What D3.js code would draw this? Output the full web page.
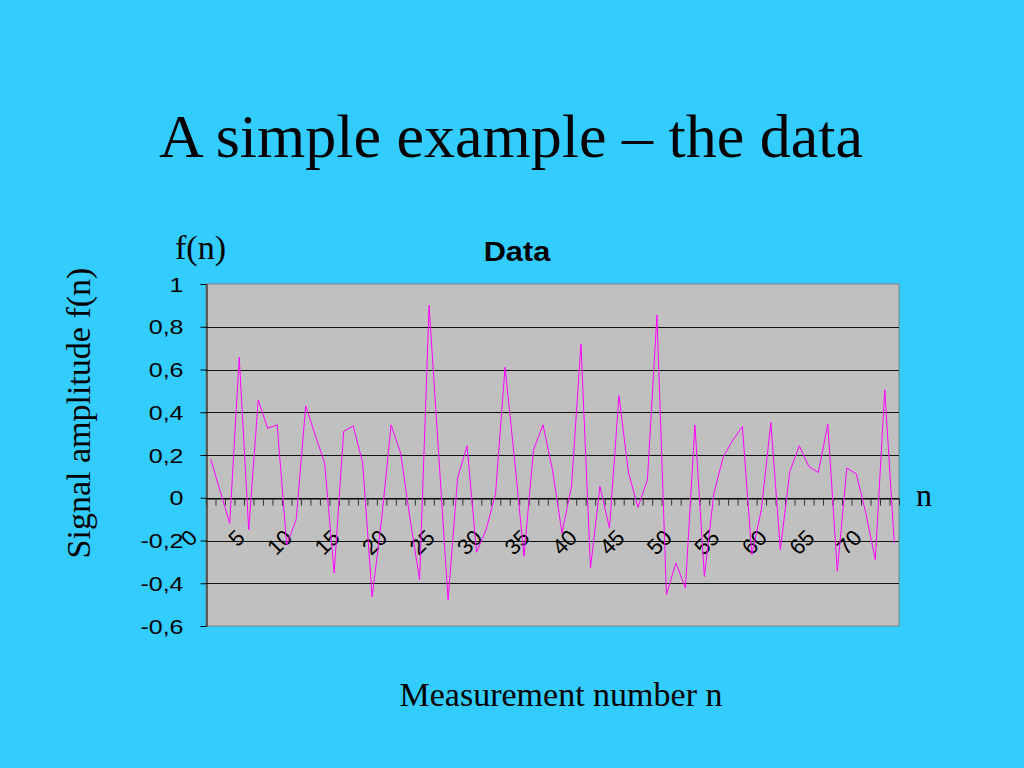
<!DOCTYPE html>
<html>
<head>
<meta charset="utf-8">
<script src="https://cdn.jsdelivr.net/npm/d3@7"></script>
<style>
  body { margin: 0; background: #33ccff; }
  svg { display: block; }
</style>
</head>
<body>
<div id="chart"></div>
<script>
// measured signal f(n), n = 0 .. 72
var signal = [0.18, 0.03, -0.12, 0.657, -0.15, 0.458, 0.325, 0.341, -0.22, -0.103,
    0.43, 0.294, 0.162, -0.352, 0.31, 0.336, 0.165, -0.463, -0.1, 0.341,
    0.209, -0.10, -0.383, 0.9, 0.21, -0.478, 0.092, 0.243, -0.255, -0.15,
    0.02, 0.611, 0.18, -0.274, 0.224, 0.341, 0.13, -0.165, 0.053, 0.72,
    -0.329, 0.053, -0.142, 0.478, 0.118, -0.045, 0.084, 0.855, -0.453, -0.305,
    -0.422, 0.341, -0.368, 0.02, 0.193, 0.27, 0.333, -0.266, -0.056, 0.352,
    -0.243, 0.123, 0.243, 0.146, 0.118, 0.344, -0.344, 0.139, 0.112, -0.07,
    -0.29, 0.505, -0.212];
var categories = signal.map(function (d, i) { return i; });
var xTickLabels = [0, 5, 10, 15, 20, 25, 30, 35, 40, 45, 50, 55, 60, 65, 70];
var yTicks = [-0.6, -0.4, -0.2, 0, 0.2, 0.4, 0.6, 0.8, 1];
var gridTicks = [-0.4, -0.2, 0, 0.2, 0.4, 0.6, 0.8];

var width = 1024, height = 768;
var plot = { left: 206, right: 899, top: 284, bottom: 626 };

var svg = d3.select("#chart")
    .append("svg")
    .attr("width", width)
    .attr("height", height);

svg.append("rect")
    .attr("width", width)
    .attr("height", height)
    .attr("fill", "#33ccff");

var x = d3.scaleBand()
    .domain(categories)
    .range([plot.left, plot.right])
    .padding(0);
var bw = x.bandwidth();

var y = d3.scaleLinear()
    .domain([-0.6, 1])
    .range([plot.bottom, plot.top]);

// boundaries between categories (for the small ticks on the zero line)
var xb = d3.scaleLinear()
    .domain([0, categories.length])
    .range([plot.left, plot.right]);

function fmt(d) {
    return String(Math.round(d * 10) / 10).replace(".", ",");
}

// plot area
svg.append("rect")
    .attr("x", plot.left)
    .attr("y", plot.top)
    .attr("width", plot.right - plot.left)
    .attr("height", plot.bottom - plot.top)
    .attr("fill", "#c0c0c0")
    .attr("stroke", "#808080")
    .attr("stroke-width", 1);

// gridlines
svg.append("g")
    .selectAll("line")
    .data(gridTicks)
    .enter()
    .append("line")
    .attr("x1", plot.left)
    .attr("x2", plot.right)
    .attr("y1", function (d) { return Math.round(y(d)) + 0.5; })
    .attr("y2", function (d) { return Math.round(y(d)) + 0.5; })
    .attr("stroke", "#111")
    .attr("stroke-width", 1);

// y axis
var yAxis = svg.append("g")
    .attr("transform", "translate(" + (plot.left + 0.5) + ",0)")
    .call(d3.axisLeft(y).tickValues(yTicks).tickFormat(fmt).tickSize(6).tickSizeOuter(0));
yAxis.select(".domain").attr("stroke", "#000");
yAxis.selectAll(".tick line").attr("stroke", "#000");
yAxis.selectAll(".tick text")
    .attr("x", 0)
    .attr("dy", "0.36em")
    .attr("transform", "translate(-23,0) scale(1.25,1)")
    .attr("fill", "#000")
    .style("font-family", "'Liberation Sans', Arial, sans-serif")
    .style("font-size", "20px");

// x axis on the zero line
var xAxis = svg.append("g")
    .attr("transform", "translate(0," + (Math.round(y(0)) + 0.5) + ")")
    .call(d3.axisBottom(xb).tickValues(d3.range(categories.length + 1)).tickFormat("").tickSize(7).tickSizeOuter(0));
xAxis.select(".domain").attr("stroke", "#000");
xAxis.selectAll(".tick line").attr("stroke", "#303030");

svg.append("g")
    .selectAll("text")
    .data(xTickLabels)
    .enter()
    .append("text")
    .attr("transform", function (d) {
        return "translate(" + (x(d) + bw / 2 - 12) + ",539) rotate(-45)";
    })
    .attr("text-anchor", "end")
    .style("font-family", "'Liberation Sans', Arial, sans-serif")
    .style("font-size", "22px")
    .text(function (d) { return d; });

// the signal
var line = d3.line()
    .x(function (d, i) { return x(categories[i]) + bw / 2; })
    .y(function (d) { return y(d); });

svg.append("path")
    .datum(signal)
    .attr("d", line)
    .attr("fill", "none")
    .attr("stroke", "#ff00ff")
    .attr("stroke-width", 1);

// titles and labels
svg.append("text")
    .attr("x", 511)
    .attr("y", 157)
    .attr("text-anchor", "middle")
    .style("font-family", "'Liberation Serif', 'Times New Roman', serif")
    .style("font-size", "62px")
    .text("A simple example – the data");

svg.append("text")
    .attr("transform", "translate(517,261) scale(1.1,1)")
    .attr("text-anchor", "middle")
    .style("font-family", "'Liberation Sans', Arial, sans-serif")
    .style("font-weight", "bold")
    .style("font-size", "28px")
    .text("Data");

svg.append("text")
    .attr("x", 175)
    .attr("y", 259)
    .style("font-family", "'Liberation Serif', 'Times New Roman', serif")
    .style("font-size", "34px")
    .text("f(n)");

svg.append("text")
    .attr("x", 916)
    .attr("y", 506)
    .style("font-family", "'Liberation Serif', 'Times New Roman', serif")
    .style("font-size", "32px")
    .text("n");

svg.append("text")
    .attr("x", 561)
    .attr("y", 706)
    .attr("text-anchor", "middle")
    .style("font-family", "'Liberation Serif', 'Times New Roman', serif")
    .style("font-size", "34px")
    .text("Measurement number n");

svg.append("text")
    .attr("transform", "translate(90,413) rotate(-90)")
    .attr("text-anchor", "middle")
    .style("font-family", "'Liberation Serif', 'Times New Roman', serif")
    .style("font-size", "34px")
    .text("Signal amplitude f(n)");
</script>
</body>
</html>
